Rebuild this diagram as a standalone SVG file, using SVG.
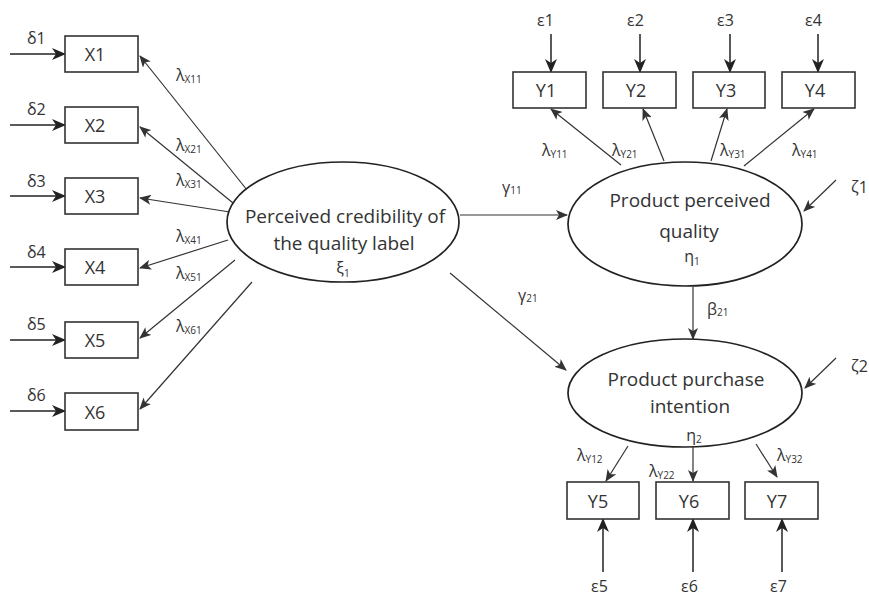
<svg xmlns="http://www.w3.org/2000/svg" width="869" height="600" viewBox="0 0 869 600">
<defs>
<marker id="ah" markerUnits="userSpaceOnUse" markerWidth="14" markerHeight="12" viewBox="0 0 14 12" refX="13" refY="6" orient="auto">
<path d="M0,0 L14,6 L0,12 L4,6 Z" fill="#222"/>
</marker>
<marker id="ahs" markerUnits="userSpaceOnUse" markerWidth="12" markerHeight="10" viewBox="0 0 12 10" refX="11" refY="5" orient="auto">
<path d="M0,0 L12,5 L0,10 L3,5 Z" fill="#333"/>
</marker>
<style>
.box{fill:#fff;stroke:#333;stroke-width:1.6}
.ell{fill:#fff;stroke:#222;stroke-width:1.7}
.t{font-family:"Open Sans","Liberation Sans",sans-serif;fill:#333;text-anchor:middle}
.bt{font-size:18px}
.et{font-size:19px}
.g{font-family:"Open Sans","Liberation Sans",sans-serif;fill:#333;font-size:16px}
.sub{font-size:10px}
.err{stroke:#222;stroke-width:1.5;fill:none;marker-end:url(#ah)}
.path{stroke:#333;stroke-width:1.2;fill:none;marker-end:url(#ahs)}
</style>
</defs>
<rect width="869" height="600" fill="#fff"/>

<g id="connectors">
<line class="err" x1="10" y1="54" x2="65" y2="54"/>
<line class="err" x1="10" y1="125" x2="65" y2="125"/>
<line class="err" x1="10" y1="196" x2="65" y2="196"/>
<line class="err" x1="10" y1="267" x2="65" y2="267"/>
<line class="err" x1="10" y1="340" x2="65" y2="340"/>
<line class="err" x1="10" y1="411" x2="65" y2="411"/>
<line class="path" x1="247" y1="190" x2="140" y2="56"/>
<line class="path" x1="233" y1="203" x2="140" y2="127"/>
<line class="path" x1="230" y1="212" x2="140" y2="198"/>
<line class="path" x1="228" y1="240" x2="140" y2="268"/>
<line class="path" x1="235" y1="260" x2="140" y2="338"/>
<line class="path" x1="252" y1="282" x2="140" y2="409"/>
<line class="path" x1="460" y1="215" x2="567" y2="215"/>
<line class="path" x1="450" y1="273" x2="566" y2="370"/>
<line class="path" x1="693" y1="287" x2="693" y2="339"/>
<line class="path" x1="836" y1="180" x2="804" y2="211"/>
<line class="path" x1="836" y1="358" x2="805" y2="388"/>
<line class="path" x1="621" y1="165" x2="551" y2="109"/>
<line class="path" x1="664" y1="161" x2="643" y2="109"/>
<line class="path" x1="711" y1="161" x2="727" y2="109"/>
<line class="path" x1="744" y1="166" x2="814" y2="109"/>
<line class="err" x1="551" y1="34" x2="551" y2="72"/>
<line class="err" x1="640" y1="34" x2="640" y2="72"/>
<line class="err" x1="730" y1="34" x2="730" y2="72"/>
<line class="err" x1="818" y1="34" x2="818" y2="72"/>
<line class="path" x1="628" y1="446" x2="606" y2="481"/>
<line class="path" x1="693" y1="447" x2="693" y2="481"/>
<line class="path" x1="756" y1="444" x2="777" y2="477"/>
<line class="err" x1="603" y1="572" x2="603" y2="519"/>
<line class="err" x1="693" y1="572" x2="693" y2="519"/>
<line class="err" x1="782" y1="572" x2="782" y2="519"/>
</g>

<g id="X1"><rect class="box" x="65" y="36" width="73" height="36"/><text class="t bt" x="95" y="61">X1</text></g>
<g id="X2"><rect class="box" x="65" y="107" width="73" height="36"/><text class="t bt" x="95" y="132">X2</text></g>
<g id="X3"><rect class="box" x="65" y="178" width="73" height="36"/><text class="t bt" x="95" y="203">X3</text></g>
<g id="X4"><rect class="box" x="65" y="249" width="73" height="36"/><text class="t bt" x="95" y="274">X4</text></g>
<g id="X5"><rect class="box" x="65" y="322" width="73" height="36"/><text class="t bt" x="95" y="347">X5</text></g>
<g id="X6"><rect class="box" x="65" y="393" width="73" height="37"/><text class="t bt" x="95" y="419">X6</text></g>

<g id="Y1"><rect class="box" x="513" y="72" width="73" height="36"/><text class="t bt" x="546" y="97">Y1</text></g>
<g id="Y2"><rect class="box" x="603" y="72" width="73" height="36"/><text class="t bt" x="636" y="97">Y2</text></g>
<g id="Y3"><rect class="box" x="693" y="72" width="72" height="36"/><text class="t bt" x="726" y="97">Y3</text></g>
<g id="Y4"><rect class="box" x="782" y="72" width="73" height="36"/><text class="t bt" x="815" y="97">Y4</text></g>

<g id="Y5"><rect class="box" x="567" y="482" width="72" height="37"/><text class="t bt" x="598" y="508">Y5</text></g>
<g id="Y6"><rect class="box" x="656" y="482" width="73" height="37"/><text class="t bt" x="689" y="508">Y6</text></g>
<g id="Y7"><rect class="box" x="745" y="482" width="73" height="37"/><text class="t bt" x="777" y="508">Y7</text></g>

<g id="xi1">
<ellipse class="ell" cx="343" cy="222" rx="116" ry="60"/>
<text class="t et" x="345" y="223">Perceived credibility of</text>
<text class="t et" x="344" y="250">the quality label</text>
<text class="t" font-size="16" x="343" y="274">ξ<tspan class="sub" dy="3">1</tspan></text>
</g>
<g id="eta1">
<ellipse class="ell" cx="685" cy="224" rx="117" ry="62"/>
<text class="t et" x="690" y="207">Product perceived</text>
<text class="t et" x="689" y="238">quality</text>
<text class="t" font-size="16" x="692" y="262">η<tspan class="sub" dy="3">1</tspan></text>
</g>
<g id="eta2">
<ellipse class="ell" cx="685" cy="393" rx="117" ry="54"/>
<text class="t et" x="686" y="386">Product purchase</text>
<text class="t et" x="690" y="413">intention</text>
<text class="t" font-size="16" x="694" y="441">η<tspan class="sub" dy="2">2</tspan></text>
</g>

<g id="labels">
<text class="g" x="27" y="44">δ1</text>
<text class="g" x="27" y="115">δ2</text>
<text class="g" x="27" y="187">δ3</text>
<text class="g" x="27" y="258">δ4</text>
<text class="g" x="27" y="330">δ5</text>
<text class="g" x="27" y="401">δ6</text>

<text class="g" x="176" y="81">λ<tspan class="sub" dy="2">X11</tspan></text>
<text class="g" x="176" y="151">λ<tspan class="sub" dy="2">X21</tspan></text>
<text class="g" x="176" y="186">λ<tspan class="sub" dy="2">X31</tspan></text>
<text class="g" x="176" y="242">λ<tspan class="sub" dy="2">X41</tspan></text>
<text class="g" x="176" y="279">λ<tspan class="sub" dy="2">X51</tspan></text>
<text class="g" x="176" y="332">λ<tspan class="sub" dy="2">X61</tspan></text>

<text class="g" x="502" y="193">γ<tspan class="sub" dy="1">11</tspan></text>
<text class="g" x="518" y="301">γ<tspan class="sub" dy="1">21</tspan></text>
<text class="g" x="707" y="315">β<tspan class="sub" dy="1">21</tspan></text>

<text class="g" x="851" y="193">ζ1</text>
<text class="g" x="851" y="372">ζ2</text>

<text class="g" x="542" y="156">λ<tspan class="sub" dy="2">Y11</tspan></text>
<text class="g" x="612" y="156">λ<tspan class="sub" dy="2">Y21</tspan></text>
<text class="g" x="720" y="156">λ<tspan class="sub" dy="2">Y31</tspan></text>
<text class="g" x="792" y="156">λ<tspan class="sub" dy="2">Y41</tspan></text>

<text class="g" x="537" y="26">ε1</text>
<text class="g" x="627" y="26">ε2</text>
<text class="g" x="717" y="26">ε3</text>
<text class="g" x="805" y="26">ε4</text>

<text class="g" x="577" y="461">λ<tspan class="sub" dy="2">Y12</tspan></text>
<text class="g" x="649" y="477">λ<tspan class="sub" dy="2">Y22</tspan></text>
<text class="g" x="777" y="461">λ<tspan class="sub" dy="2">Y32</tspan></text>

<text class="g" x="591" y="592">ε5</text>
<text class="g" x="681" y="592">ε6</text>
<text class="g" x="770" y="592">ε7</text>
</g>
</svg>
